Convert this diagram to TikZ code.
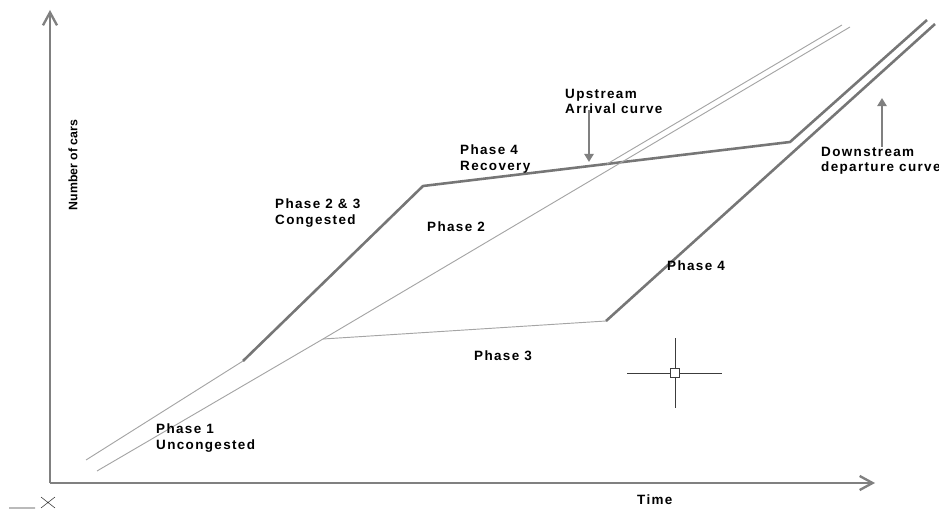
\documentclass[tikz,border=0pt]{standalone}
\usepackage{fontspec}
\setmainfont{Liberation Sans}[LetterSpace=10]
\newfontfamily\narrowfont{Liberation Sans}
\usetikzlibrary{arrows.meta}

\begin{document}
\begin{tikzpicture}[x=0.03cm,y=-0.03cm,
  axisline/.style={draw=axisgray,line width=2.4pt,-{Straight Barb[length=11pt,width=12pt,line width=2pt]}},
  heavyline/.style={draw=curvegray,line width=2.2pt,line join=round},
  lightline/.style={draw=thingray,line width=0.8pt},
  pointer/.style={draw=axisgray,line width=2.4pt,-{Triangle[length=7pt,width=8pt]}},
  lbl/.style={font=\bfseries\fontsize{11.5}{13}\selectfont,align=left,anchor=north west,inner sep=0pt}]
\definecolor{axisgray}{RGB}{128,128,128}
\definecolor{curvegray}{RGB}{118,118,118}
\definecolor{thingray}{RGB}{165,165,165}
\definecolor{cursorgray}{RGB}{60,60,60}
\useasboundingbox (0,0) rectangle (939,510);

% axes
\coordinate (O) at (50,483);
\coordinate (ytip) at (50,10);
\coordinate (xtip) at (875,483);
\draw[axisline] (O) -- (ytip);
\draw[axisline] (O) -- (xtip);

% corners of the curves
\coordinate (a0) at (86,460);
\coordinate (a1) at (243,361);
\coordinate (a2) at (423,186);
\coordinate (a3) at (790,142);
\coordinate (a4) at (927,20);
\coordinate (b0) at (97,471);
\coordinate (b1) at (323,339);
\coordinate (b2) at (850,27);
\coordinate (c1) at (606,321);
\coordinate (c2) at (935,24);
\coordinate (d0) at (607,164);
\coordinate (d1) at (842,25);

\draw[lightline] (a0) -- (a1);
\draw[heavyline] (a1) -- (a2) -- (a3) -- (a4);
\draw[lightline] (b0) -- (b1) -- (b2);
\draw[lightline] (b1) -- (c1);
\draw[heavyline] (c1) -- (c2);
\draw[lightline] (d0) -- (d1);

% labels
\node[lbl] (ph23) at (275,199) {Phase 2 \& 3\\Congested};
\node[lbl] (ph4rec) at (460,145) {Phase 4\\Recovery};
\node[lbl] (upstream) at (565,89) {Upstream\\Arrival curve};
\node[lbl] (downstream) at (821,147) {Downstream\\departure curve};
\node[lbl] (ph1) at (156,424) {Phase 1\\Uncongested};
\foreach \name/\pos/\txt in {ph2/{427,222}/Phase 2,ph3/{474,351}/Phase 3,ph4/{667,261}/Phase 4,time/{637,495}/Time}
  {\node[lbl] (\name) at (\pos) {\txt};}
\node[lbl,anchor=center,rotate=90,font=\narrowfont\bfseries\fontsize{10.5}{12.8}\selectfont] (ylabel) at (73,165) {Number of cars};

% pointers
\coordinate (upfrom) at (589,110);
\coordinate (upto) at (589,162);
\coordinate (downfrom) at (882,147);
\coordinate (downto) at (882,98);
\draw[pointer] (upfrom) -- (upto);
\draw[pointer] (downfrom) -- (downto);

% cursor
\node[draw=cursorgray,fill=white,line width=0.7pt,minimum size=7,inner sep=0pt] (cursor) at (675,373) {};
\draw[cursorgray,line width=0.7pt] (627,373) -- (cursor.west) (cursor.east) -- (722,373)
  (675,338) -- (cursor.north) (cursor.south) -- (675,408);
\draw[cursorgray,line width=0.5pt] (9,508) -- (35,508) (41,497) -- (55,508) (41,508) -- (55,497);
\end{tikzpicture}
\end{document}
